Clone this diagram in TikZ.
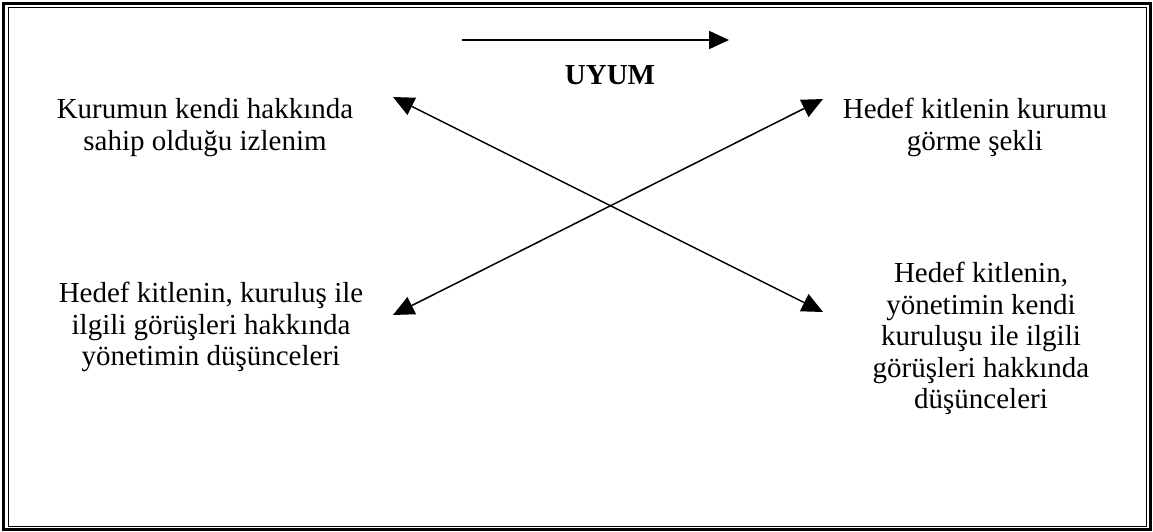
\documentclass[tikz,border=0pt]{standalone}
\usepackage{fontspec}
\setmainfont{Liberation Serif}
\usetikzlibrary{arrows.meta}

\begin{document}
\begin{tikzpicture}[
  x=0.5pt, y=-0.5pt,
  every node/.style={font=\fontsize{14.5pt}{15.75pt}\selectfont, inner sep=0pt},
  txt/.style={align=center, anchor=north},
  arrow/.style={-{Triangle[length=10pt,width=9pt]}, line width=1pt},
  dblarrow/.style={{Triangle[length=10.5pt,width=9.5pt]}-{Triangle[length=10.5pt,width=9.5pt]}, line width=0.75pt}
]
  \useasboundingbox (0,0) rectangle (1153,531);
  % double frame
  \draw[line width=1.5pt] (3.5,3) rectangle (1150.5,529);
  \draw[line width=0.5pt] (8.5,7.5) rectangle (1146,526);

  % texts
  \node[txt] (kurum) at (205,98) {Kurumun kendi hakkında\\sahip olduğu izlenim};
  \node[txt] (hedef) at (975,98) {Hedef kitlenin kurumu\\görme şekli};
  \node[txt] (gorus) at (211,282) {Hedef kitlenin, kuruluş ile\\ilgili görüşleri hakkında\\yönetimin düşünceleri};
  \node[txt] (yonetim) at (981,262) {Hedef kitlenin,\\yönetimin kendi\\kuruluşu ile ilgili\\görüşleri hakkında\\düşünceleri};
  \node[anchor=base, font=\fontsize{14.5pt}{15.75pt}\selectfont\bfseries] (uyum) at (610,84) {UYUM};

  % arrow ends
  \coordinate (ustA) at (462,40);
  \coordinate (ustB) at (729,40);
  \coordinate (solust) at (393,97);
  \coordinate (sagalt) at (823,312);
  \coordinate (sagust) at (823,99);
  \coordinate (solalt) at (393,315);

  \draw[arrow] (ustA) -- (ustB);
  \draw[dblarrow] (solust) -- (sagalt);
  \draw[dblarrow] (sagust) -- (solalt);
\end{tikzpicture}
\end{document}
